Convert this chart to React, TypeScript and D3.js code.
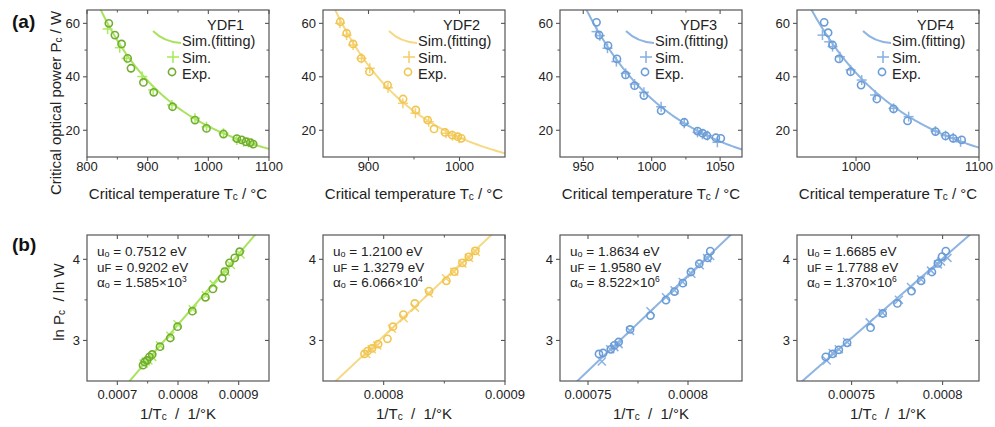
import React from 'react';
import * as d3 from 'd3';

const FONT = '"Liberation Sans", Arial, Helvetica, sans-serif';

// ---------- data ----------
const sampleNames = ['YDF1', 'YDF2', 'YDF3', 'YDF4'];
const u0Values = ['0.7512', '1.2100', '1.8634', '1.6685'];
const uFValues = ['0.9202', '1.3279', '1.9580', '1.7788'];
const alphaMantissa = ['1.585', '6.066', '8.522', '1.370'];
const alphaExponent = ['3', '4', '6', '6'];

// experimental points (Tc in °C, Pc in W)
const ydf1ExpT = [836, 846, 857, 867, 872.5, 893, 910, 941, 978, 997, 1025, 1047, 1055, 1062, 1069, 1074];
const ydf1ExpP = [60.0, 55.6, 52.3, 46.9, 43.2, 37.9, 34.2, 28.8, 23.8, 20.7, 18.6, 16.9, 16.4, 15.7, 15.4, 14.8];
const ydf2ExpT = [869, 876, 883, 892, 901, 921, 938, 952, 965, 972, 984, 992, 998, 1002];
const ydf2ExpP = [60.6, 56.3, 52.3, 46.9, 41.9, 36.9, 31.7, 27.6, 23.8, 20.5, 19.2, 18.2, 17.6, 17.0];
const ydf3ExpT = [959.7, 961.6, 968.1, 974.6, 980.9, 987.5, 994.3, 1006.9, 1023.8, 1033.5, 1037.1, 1040.3, 1046.9, 1050.5];
const ydf3ExpP = [60.4, 55.6, 51.7, 46.7, 40.7, 36.7, 33.0, 27.3, 23.0, 19.7, 18.9, 18.0, 17.2, 17.0];
const ydf4ExpT = [974.1, 977.3, 980.9, 986.1, 995.6, 1004.1, 1016.9, 1030.5, 1041.9, 1064.6, 1072.8, 1079, 1085.9];
const ydf4ExpP = [60.4, 56.5, 51.9, 46.7, 41.9, 36.9, 31.7, 28.0, 23.5, 19.5, 17.9, 17.0, 16.4];

// simulated points
const ydf1SimT = [834, 854, 865, 891, 909, 940, 978, 997, 1025, 1047, 1058, 1066, 1072];
const ydf1SimP = [57.9, 50.9, 46.9, 40.1, 35.1, 29.5, 24.5, 21.3, 18.9, 16.4, 15.7, 15.5, 15.1];
const ydf2SimT = [868.6, 875.9, 883.1, 892.3, 901.4, 921.4, 937.8, 951.6, 966.2, 985.2, 992.4, 999.7];
const ydf2SimP = [60.0, 55.6, 51.9, 46.9, 43.2, 35.9, 30.1, 26.4, 23.2, 18.9, 18.0, 17.0];
const ydf3SimT = [959.7, 962.1, 967.7, 974.2, 981, 987.5, 994.3, 1006.9, 1023.8, 1033.5, 1037.1, 1040.8, 1048];
const ydf3SimP = [56.9, 55.4, 50.7, 45.7, 41.3, 37.3, 34.2, 28.8, 22.6, 19.2, 18.5, 18.0, 15.5];
const ydf4SimT = [972.7, 978.2, 980.9, 986.9, 995.6, 1004.6, 1015.5, 1030.5, 1042.8, 1064.6, 1072.8, 1079, 1085];
const ydf4SimP = [55.6, 53.1, 51.3, 47.5, 42.6, 38.8, 33.2, 28.2, 25.1, 19.7, 18.0, 17.2, 15.7];

const expT = [ydf1ExpT, ydf2ExpT, ydf3ExpT, ydf4ExpT];
const expP = [ydf1ExpP, ydf2ExpP, ydf3ExpP, ydf4ExpP];
const simT = [ydf1SimT, ydf2SimT, ydf3SimT, ydf4SimT];
const simP = [ydf1SimP, ydf2SimP, ydf3SimP, ydf4SimP];

// Arrhenius fit: ln Pc = intercept + slope / Tc(K)
const fitSlope = [8718, 14042, 23500, 19600];
const fitIntercept = [-3.78, -8.18, -15.0, -11.67];

// axes
const topXDomain = [[800, 1100], [850, 1050], [933, 1066], [952, 1100]];
const topXTicks = [[800, 900, 1000, 1100], [900, 1000], [950, 1000, 1050], [1000, 1100]];
const topXMinor = [[850, 950, 1050], [950], [975, 1025], [1050]];
const topYDomain = [10, 65];
const topYTicks = [20, 40, 60];
const topYMinor = [30, 50];

const botXDomain = [[0.00065, 0.00095], [0.00075, 0.0009], [0.000736, 0.000827], [0.00072, 0.00082]];
const botXTicks = [[0.0007, 0.0008, 0.0009], [0.0008, 0.0009], [0.00075, 0.0008], [0.00075, 0.0008]];
const botXTickLabels = [['0.0007', '0.0008', '0.0009'], ['0.0008', '0.0009'], ['0.00075', '0.0008'], ['0.00075', '0.0008']];
const botXMinor = [[0.00075, 0.00085], [0.00085], [0.000775], [0.000775]];
const botYDomain = [2.5, 4.3];
const botYTicks = [3, 4];
const botYMinor = [3.5];

// ---------- style / layout ----------
const lineColors = ['#a9e35e', '#f6d985', '#8eb4e2', '#8eb4e2'];
const simColors = ['#a8ec5c', '#f5d06c', '#8bb2e2', '#8bb2e2'];
const expColors = ['#72ad32', '#f1c552', '#6a9cd6', '#6a9cd6'];
const FRAME = '#555';

const panelLeft = [87, 323, 560, 797];
const panelW = 182;
const topY0 = 10, topY1 = 157;
const botY0 = 235, botY1 = 381;

const toK = (t: number) => t + 273.15;

function Frame({ x0, x1, y0, y1 }: any) {
  return <rect x={x0} y={y0} width={x1 - x0} height={y1 - y0} fill="none" stroke={FRAME} strokeWidth={1.2} />;
}

function Plus({ x, y, r, color, w = 1.4 }: any) {
  return (
    <g stroke={color} strokeWidth={w}>
      <line x1={x - r} x2={x + r} y1={y} y2={y} />
      <line x1={x} x2={x} y1={y - r} y2={y + r} />
    </g>
  );
}
function Cross({ x, y, r, color, w = 1.4 }: any) {
  return (
    <g stroke={color} strokeWidth={w}>
      <line x1={x - r} x2={x + r} y1={y - r} y2={y + r} />
      <line x1={x - r} x2={x + r} y1={y + r} y2={y - r} />
    </g>
  );
}

function Axes({ xs, ys, xTicks, xLabels, xMinor, yTicks, yMinor, x0, x1, y0, y1, xLabelY }: any) {
  return (
    <g>
      {xTicks.map((t: number, k: number) => (
        <g key={'xt' + k}>
          <line x1={xs(t)} x2={xs(t)} y1={y1} y2={y1 + 4} stroke={FRAME} strokeWidth={1.1} />
          <line x1={xs(t)} x2={xs(t)} y1={y0} y2={y0 + 4} stroke={FRAME} strokeWidth={1.1} />
          <text x={xs(t)} y={xLabelY} textAnchor="middle" fontSize={13} fill="#222" fontFamily={FONT}>{xLabels[k]}</text>
        </g>
      ))}
      {xMinor.map((t: number, k: number) => (
        <g key={'xm' + k}>
          <line x1={xs(t)} x2={xs(t)} y1={y1} y2={y1 + 2.5} stroke={FRAME} strokeWidth={1} />
          <line x1={xs(t)} x2={xs(t)} y1={y0} y2={y0 + 2.5} stroke={FRAME} strokeWidth={1} />
        </g>
      ))}
      {yTicks.map((t: number, k: number) => (
        <g key={'yt' + k}>
          <line x1={x0 - 4} x2={x0} y1={ys(t)} y2={ys(t)} stroke={FRAME} strokeWidth={1.1} />
          <line x1={x1 - 4} x2={x1} y1={ys(t)} y2={ys(t)} stroke={FRAME} strokeWidth={1.1} />
          <text x={x0 - 7} y={ys(t)} dy="0.36em" textAnchor="end" fontSize={13} fill="#222" fontFamily={FONT}>{t}</text>
        </g>
      ))}
      {yMinor.map((t: number, k: number) => (
        <g key={'ym' + k}>
          <line x1={x0 - 2.5} x2={x0} y1={ys(t)} y2={ys(t)} stroke={FRAME} strokeWidth={1} />
          <line x1={x1 - 2.5} x2={x1} y1={ys(t)} y2={ys(t)} stroke={FRAME} strokeWidth={1} />
        </g>
      ))}
    </g>
  );
}

function TopPanel({ i }: { i: number }) {
  const x0 = panelLeft[i], x1 = x0 + panelW;
  const xs = d3.scaleLinear().domain(topXDomain[i]).range([x0, x1]);
  const ys = d3.scaleLinear().domain(topYDomain).range([topY1, topY0]);
  const [d0, d1] = topXDomain[i];
  const ts = d3.range(0, 241).map((k) => d0 + ((d1 - d0) * k) / 240);
  const line = d3.line<number>()
    .x((t) => xs(t))
    .y((t) => ys(Math.exp(fitIntercept[i] + fitSlope[i] / toK(t))))
    .curve(d3.curveLinear);
  const clip = 'clipTop' + i;
  const lx = x0 + 95;
  return (
    <g>
      <defs>
        <clipPath id={clip}><rect x={x0} y={topY0} width={panelW} height={topY1 - topY0} /></clipPath>
      </defs>
      <g clipPath={`url(#${clip})`}>
        <path d={line(ts) || ''} fill="none" stroke={lineColors[i]} strokeWidth={2} />
        {simT[i].map((t, k) => (
          <Plus key={'s' + k} x={xs(t)} y={ys(simP[i][k])} r={5} color={simColors[i]} w={1.5} />
        ))}
        {expT[i].map((t, k) => (
          <circle key={'e' + k} cx={xs(t)} cy={ys(expP[i][k])} r={3.6} fill="none" stroke={expColors[i]} strokeWidth={1.6} />
        ))}
      </g>
      <Frame x0={x0} x1={x1} y0={topY0} y1={topY1} />
      <Axes xs={xs} ys={ys} xTicks={topXTicks[i]} xLabels={topXTicks[i].map(String)} xMinor={topXMinor[i]}
        yTicks={topYTicks} yMinor={topYMinor} x0={x0} x1={x1} y0={topY0} y1={topY1} xLabelY={171} />
      {/* legend */}
      <g fontFamily={FONT} fontSize={14.5} fill="#222">
        <text x={x0 + 120} y={topY0 + 20}>{sampleNames[i]}</text>
        <path d={`M ${lx - 29} ${topY0 + 21} Q ${lx - 18} ${topY0 + 32} ${lx - 1} ${topY0 + 33}`} fill="none" stroke={lineColors[i]} strokeWidth={2} />
        <text x={lx} y={topY0 + 36}>Sim.(fitting)</text>
        <Plus x={lx - 9} y={topY0 + 47} r={6} color={simColors[i]} w={1.6} />
        <text x={lx} y={topY0 + 52.5}>Sim.</text>
        <circle cx={lx - 10} cy={topY0 + 62} r={3.6} fill="none" stroke={expColors[i]} strokeWidth={1.6} />
        <text x={lx} y={topY0 + 68.5}>Exp.</text>
      </g>
      <text x={(x0 + x1) / 2} y={199} textAnchor="middle" fontFamily={FONT} fontSize={15} fill="#222">
        Critical temperature T<tspan fontSize={10} dy={1}>c</tspan><tspan dy={-1}> / °C</tspan>
      </text>
    </g>
  );
}

function BottomPanel({ i }: { i: number }) {
  const x0 = panelLeft[i], x1 = x0 + panelW;
  const xs = d3.scaleLinear().domain(botXDomain[i]).range([x0, x1]);
  const ys = d3.scaleLinear().domain(botYDomain).range([botY1, botY0]);
  const [d0, d1] = botXDomain[i];
  const line = d3.line<number>().x((v) => xs(v)).y((v) => ys(fitIntercept[i] + fitSlope[i] * v));
  const clip = 'clipBot' + i;
  const tx = x0 + 10;
  return (
    <g>
      <defs>
        <clipPath id={clip}><rect x={x0} y={botY0} width={panelW} height={botY1 - botY0} /></clipPath>
      </defs>
      <g clipPath={`url(#${clip})`}>
        <path d={line([d0, d1]) || ''} fill="none" stroke={lineColors[i]} strokeWidth={2} />
        {simT[i].map((t, k) => (
          <Cross key={'s' + k} x={xs(1 / toK(t))} y={ys(Math.log(simP[i][k]))} r={4} color={simColors[i]} w={1.5} />
        ))}
        {expT[i].map((t, k) => (
          <circle key={'e' + k} cx={xs(1 / toK(t))} cy={ys(Math.log(expP[i][k]))} r={3.6} fill="none" stroke={expColors[i]} strokeWidth={1.6} />
        ))}
      </g>
      <Frame x0={x0} x1={x1} y0={botY0} y1={botY1} />
      <Axes xs={xs} ys={ys} xTicks={botXTicks[i]} xLabels={botXTickLabels[i]} xMinor={botXMinor[i]}
        yTicks={botYTicks} yMinor={botYMinor} x0={x0} x1={x1} y0={botY0} y1={botY1} xLabelY={399} />
      <g fontFamily={FONT} fontSize={13.5} fill="#222">
        <text x={tx} y={256}>u<tspan fontSize={9} dy={1}>o</tspan><tspan dy={-1}> = {u0Values[i]} eV</tspan></text>
        <text x={tx} y={271.5}>u<tspan fontSize={11}>F</tspan> = {uFValues[i]} eV</text>
        <text x={tx} y={287}>α<tspan fontSize={9} dy={1}>o</tspan><tspan dy={-1}> = {alphaMantissa[i]}×10</tspan><tspan fontSize={8.5} dy={-5}>{alphaExponent[i]}</tspan></text>
      </g>
      <text x={(x0 + x1) / 2} y={419} textAnchor="middle" fontFamily={FONT} fontSize={15} fill="#222">
        1/T<tspan fontSize={10} dy={1}>c</tspan><tspan dy={-1} style={{ whiteSpace: 'pre' }}>{'  /  1/°K'}</tspan>
      </text>
    </g>
  );
}

export default function App() {
  return (
    <svg width={995} height={427} viewBox="0 0 995 427" style={{ position: 'absolute', left: 0, top: 0, background: '#fff' }}>
      <rect x={0} y={0} width={995} height={427} fill="#fff" />
      <text x={12} y={28} fontFamily={FONT} fontWeight="bold" fontSize={19} fill="#111">(a)</text>
      <text x={12} y={251} fontFamily={FONT} fontWeight="bold" fontSize={19} fill="#111">(b)</text>
      <text transform="translate(61,103) rotate(-90)" textAnchor="middle" fontFamily={FONT} fontSize={15} fill="#222">
        Critical optical power P<tspan fontSize={10} dy={1}>c</tspan><tspan dy={-1}> / W</tspan>
      </text>
      <text transform="translate(64,302) rotate(-90)" textAnchor="middle" fontFamily={FONT} fontSize={15} fill="#222" style={{ whiteSpace: 'pre' }}>
        ln P<tspan fontSize={10} dy={1}>c</tspan><tspan dy={-1}>{'  / ln W'}</tspan>
      </text>
      {[0, 1, 2, 3].map((i) => <TopPanel key={'t' + i} i={i} />)}
      {[0, 1, 2, 3].map((i) => <BottomPanel key={'b' + i} i={i} />)}
    </svg>
  );
}
